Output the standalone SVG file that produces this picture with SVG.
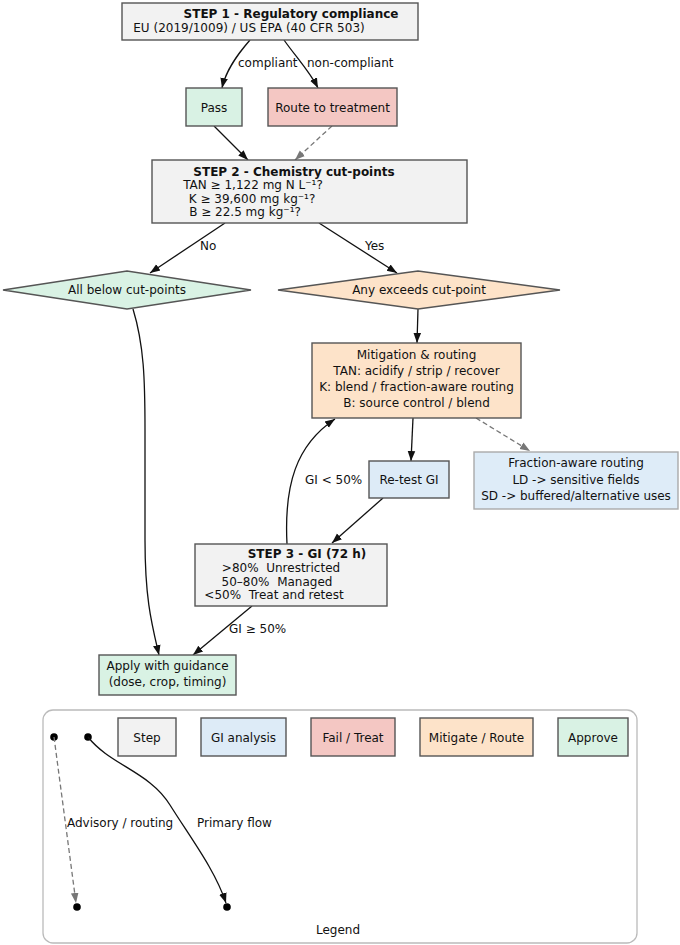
<svg xmlns="http://www.w3.org/2000/svg" width="680" height="945" viewBox="0 0 680 945">
<defs>
<style>
text{font-family:"DejaVu Sans","Liberation Sans",sans-serif;font-size:12px;fill:#111}
.b{font-weight:bold}
.m{text-anchor:middle}
.pre{white-space:pre}
.box{stroke:#555;stroke-width:1.4}
.step{fill:#f2f2f2}
.gi{fill:#ddebf7}
.fail{fill:#f4c7c3}
.mit{fill:#fde3c9}
.ok{fill:#d9f2e4}
.e{fill:none;stroke:#111;stroke-width:1.3}
.d{fill:none;stroke:#777;stroke-width:1.3;stroke-dasharray:5,3}
</style>
<marker id="ah" viewBox="0 0 10 10" refX="10" refY="5" markerWidth="10" markerHeight="10" markerUnits="userSpaceOnUse" orient="auto"><path d="M0,1.2 L10,5 L0,8.8 z" fill="#111"/></marker>
<marker id="ahg" viewBox="0 0 10 10" refX="10" refY="5" markerWidth="10" markerHeight="10" markerUnits="userSpaceOnUse" orient="auto"><path d="M0,1.2 L10,5 L0,8.8 z" fill="#777"/></marker>
</defs>
<rect width="680" height="945" fill="#fff"/>

<g id="connectors">
<path class="e" d="M250,40 C237,55 226,70 222,88" marker-end="url(#ah)"/>
<path class="e" d="M284,40 C296,57 310,72 318,88" marker-end="url(#ah)"/>
<path class="e" d="M214,126 L248,160" marker-end="url(#ah)"/>
<path class="d" d="M332,126 L295,160" marker-end="url(#ahg)"/>
<path class="e" d="M225,223 L150,273" marker-end="url(#ah)"/>
<path class="e" d="M319,223 L397,273" marker-end="url(#ah)"/>
<path class="e" d="M418,309 L417,343" marker-end="url(#ah)"/>
<path class="e" d="M413,418 L411,461" marker-end="url(#ah)"/>
<path class="d" d="M476,418 L530,451" marker-end="url(#ahg)"/>
<path class="e" d="M383,498 L332,543" marker-end="url(#ah)"/>
<path class="e" d="M287,544 C284,485 296,445 335,419" marker-end="url(#ah)"/>
<path class="e" d="M252,606 L193,655" marker-end="url(#ah)"/>
<path class="e" d="M133,309 C144,345 145,380 145,430 L145,540 C145,600 152,625 159,655" marker-end="url(#ah)"/>
<text x="238" y="67">compliant</text>
<text x="307" y="67">non-compliant</text>
<text x="200" y="250">No</text>
<text x="365" y="250">Yes</text>
<text x="305" y="484">GI &lt; 50%</text>
<text x="229" y="633">GI ≥ 50%</text>
</g>

<g id="step1">
<rect class="box step" x="122" y="3" width="296" height="37"/>
<text class="b m" x="291" y="18">STEP 1 - Regulatory compliance</text>
<text class="m" x="249" y="32">EU (2019/1009) / US EPA (40 CFR 503)</text>
</g>

<g id="pass">
<rect class="box ok" x="186" y="88" width="56" height="38"/>
<text class="m" x="214" y="112">Pass</text>
</g>

<g id="route">
<rect class="box fail" x="268" y="88" width="129" height="38"/>
<text class="m" x="332.5" y="112">Route to treatment</text>
</g>

<g id="step2">
<rect class="box step" x="152" y="160" width="315" height="63"/>
<text class="b m" x="294" y="176">STEP 2 - Chemistry cut-points</text>
<text class="m" x="253" y="189">TAN ≥ 1,122 mg N L⁻¹?</text>
<text class="m" x="252" y="203">K ≥ 39,600 mg kg⁻¹?</text>
<text class="m" x="245" y="216">B ≥ 22.5 mg kg⁻¹?</text>
</g>

<g id="allbelow">
<polygon class="box ok" points="3,290 127,271 251,290 127,309"/>
<text class="m" x="127" y="294">All below cut-points</text>
</g>

<g id="anyexceeds">
<polygon class="box mit" points="278,290 418,271 560,290 418,309"/>
<text class="m" x="419" y="294">Any exceeds cut-point</text>
</g>

<g id="mitigation">
<rect class="box mit" x="312" y="343" width="209" height="75"/>
<text class="m" x="416.5" y="359">Mitigation &amp; routing</text>
<text class="m" x="416.5" y="375">TAN: acidify / strip / recover</text>
<text class="m" x="416.5" y="391">K: blend / fraction-aware routing</text>
<text class="m" x="416.5" y="407">B: source control / blend</text>
</g>

<g id="retest">
<rect class="box gi" x="369" y="461" width="80" height="37"/>
<text class="m" x="409" y="484">Re-test GI</text>
</g>

<g id="fraction">
<rect x="474" y="452" width="204" height="57" fill="#deecf8" stroke="#aaa" stroke-width="1.4"/>
<text class="m" x="576" y="467">Fraction-aware routing</text>
<text class="m" x="576" y="484">LD -&gt; sensitive fields</text>
<text class="m" x="576" y="500">SD -&gt; buffered/alternative uses</text>
</g>

<g id="step3">
<rect class="box step" x="195" y="544" width="192" height="62"/>
<text class="b m" x="307" y="558">STEP 3 - GI (72 h)</text>
<text class="m pre" x="281" y="572" xml:space="preserve">&gt;80%  Unrestricted</text>
<text class="m pre" x="277" y="586" xml:space="preserve">50–80%  Managed</text>
<text class="m pre" x="274" y="599" xml:space="preserve">&lt;50%  Treat and retest</text>
</g>

<g id="apply">
<rect class="box ok" x="99" y="655" width="137" height="40"/>
<text class="m" x="167.5" y="670">Apply with guidance</text>
<text class="m" x="167.5" y="686">(dose, crop, timing)</text>
</g>

<g id="legend">
<rect x="43" y="710" width="594" height="233" rx="10" fill="#fff" stroke="#bbb" stroke-width="1.3"/>
<circle cx="54" cy="737" r="3.8" fill="#000"/>
<circle cx="88" cy="737" r="3.8" fill="#000"/>
<circle cx="77" cy="907" r="3.8" fill="#000"/>
<circle cx="227" cy="907" r="3.8" fill="#000"/>
<path class="d" d="M54,737 L76,903" marker-end="url(#ahg)"/>
<path class="e" d="M88,737 C110,765 150,772 170,805 C192,840 215,870 226,903" marker-end="url(#ah)"/>
<text x="67" y="827">Advisory / routing</text>
<text x="197" y="827">Primary flow</text>
<rect class="box step" x="118" y="718" width="58" height="38"/>
<text class="m" x="147" y="742">Step</text>
<rect class="box gi" x="201" y="718" width="85" height="38"/>
<text class="m" x="243.5" y="742">GI analysis</text>
<rect class="box fail" x="311" y="718" width="84" height="38"/>
<text class="m" x="353" y="742">Fail / Treat</text>
<rect class="box mit" x="420" y="718" width="113" height="38"/>
<text class="m" x="476.5" y="742">Mitigate / Route</text>
<rect class="box ok" x="558" y="718" width="70" height="38"/>
<text class="m" x="593" y="742">Approve</text>
<text class="m" x="338" y="934">Legend</text>
</g>
</svg>
